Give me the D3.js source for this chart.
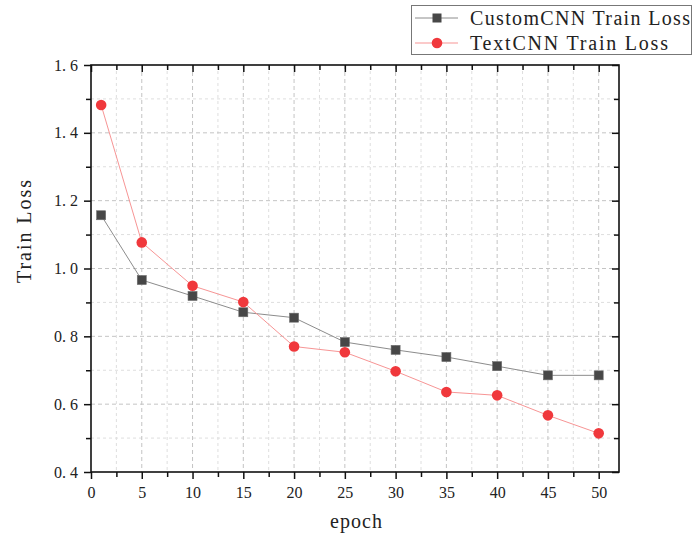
<!DOCTYPE html>
<html>
	<head>
		<title>Train Loss</title>
		<style>
			body, html {
				margin: 0;
				padding: 0;
				background: #fff;
			}
			text {
				font-family: "Liberation Serif", "DejaVu Serif", serif;
				fill: #222;
			}
			.grid-major line {
				stroke: #c4c4c4;
				stroke-width: 1px;
				stroke-dasharray: 4 3;
			}
			.grid-minor line {
				stroke: #dedede;
				stroke-width: 1px;
				stroke-dasharray: 3 3;
			}
		</style>
	</head>
	<body>

		<svg id="svg" width="693" height="535"></svg>

		<script src="https://d3js.org/d3.v7.min.js"></script>
		<script>
			// Data
			const epochs = [1, 5, 10, 15, 20, 25, 30, 35, 40, 45, 50]
			const customLoss = [1.157, 0.966, 0.919, 0.871, 0.855, 0.783, 0.760, 0.739, 0.712, 0.685, 0.685]
			const textLoss = [1.482, 1.077, 0.949, 0.901, 0.770, 0.753, 0.697, 0.636, 0.626, 0.567, 0.514]
			const xTicks = [0, 5, 10, 15, 20, 25, 30, 35, 40, 45, 50]
			const yTicks = [0.4, 0.6, 0.8, 1.0, 1.2, 1.4, 1.6]
			const seriesNames = ['CustomCNN Train Loss', 'TextCNN Train Loss']

			// plot box
			const pL = 91, pR = 619, pT = 65, pB = 472

			const x = d3.scaleLinear().domain([0, 52]).range([pL, pR])
			const y = d3.scaleLinear().domain([0.4, 1.6]).range([pB, pT])

			const svg = d3.select('#svg')

			// minor ticks sit half way between the major ones
			const xMinor = d3.range(2.5, 52, 5)
			const yMinor = d3.range(0.5, 1.6, 0.2)

			// grid lines
			svg.append('g').attr('class', 'grid-minor')
				.selectAll('line').data(xMinor).enter().append('line')
				.attr('x1', d => x(d)).attr('x2', d => x(d))
				.attr('y1', pT).attr('y2', pB)
			svg.append('g').attr('class', 'grid-minor')
				.selectAll('line').data(yMinor).enter().append('line')
				.attr('y1', d => y(d)).attr('y2', d => y(d))
				.attr('x1', pL).attr('x2', pR)
			svg.append('g').attr('class', 'grid-major')
				.selectAll('line').data(xTicks.slice(1)).enter().append('line')
				.attr('x1', d => x(d)).attr('x2', d => x(d))
				.attr('y1', pT).attr('y2', pB)
			svg.append('g').attr('class', 'grid-major')
				.selectAll('line').data(yTicks.slice(1, -1)).enter().append('line')
				.attr('y1', d => y(d)).attr('y2', d => y(d))
				.attr('x1', pL).attr('x2', pR)

			// axes: ticks point out on bottom/left, inward on top/right
			const fmt = d => d3.format('.1f')(d).replace('.', '. ')

			svg.append('g')
				.attr('transform', `translate(0,${pB})`)
				.call(d3.axisBottom(x).tickValues(xTicks).tickSize(7).tickPadding(8))
			svg.append('g')
				.attr('transform', `translate(0,${pB})`)
				.call(d3.axisBottom(x).tickValues(xMinor).tickSize(5).tickFormat(''))
			svg.append('g')
				.attr('transform', `translate(${pL},0)`)
				.call(d3.axisLeft(y).tickValues(yTicks).tickSize(7).tickPadding(6).tickFormat(fmt))
			svg.append('g')
				.attr('transform', `translate(${pL},0)`)
				.call(d3.axisLeft(y).tickValues(yMinor).tickSize(5).tickFormat(''))
			svg.append('g')
				.attr('transform', `translate(0,${pT})`)
				.call(d3.axisTop(x).tickValues(xTicks).tickSize(-7).tickFormat(''))
			svg.append('g')
				.attr('transform', `translate(0,${pT})`)
				.call(d3.axisTop(x).tickValues(xMinor).tickSize(-5).tickFormat(''))
			svg.append('g')
				.attr('transform', `translate(${pR},0)`)
				.call(d3.axisRight(y).tickValues(yTicks).tickSize(-7).tickFormat(''))
			svg.append('g')
				.attr('transform', `translate(${pR},0)`)
				.call(d3.axisRight(y).tickValues(yMinor).tickSize(-5).tickFormat(''))

			svg.selectAll('.domain').remove()
			svg.selectAll('.tick line').attr('stroke', '#111').attr('stroke-width', 1.5)
			svg.selectAll('.tick text')
				.style('font-size', '16px')
				.style('font-family', '"Liberation Serif", serif')
				.style('white-space', 'pre')
				.attr('fill', '#222')

			// frame
			svg.append('rect')
				.attr('x', pL).attr('y', pT)
				.attr('width', pR - pL).attr('height', pB - pT)
				.attr('fill', 'none').attr('stroke', '#111').attr('stroke-width', 1.6)

			// series
			const custom = epochs.map((e, i) => ({ e, v: customLoss[i] }))
			const textcnn = epochs.map((e, i) => ({ e, v: textLoss[i] }))
			const line = d3.line().x(d => x(d.e)).y(d => y(d.v))

			svg.append('path').datum(custom)
				.attr('d', line).attr('fill', 'none')
				.attr('stroke', '#8c8c8c').attr('stroke-width', 1)
			svg.append('path').datum(textcnn)
				.attr('d', line).attr('fill', 'none')
				.attr('stroke', '#f79595').attr('stroke-width', 1)

			svg.selectAll('.sq').data(custom).enter().append('rect')
				.attr('x', d => x(d.e) - 4.5).attr('y', d => y(d.v) - 4.5)
				.attr('width', 9).attr('height', 9)
				.attr('fill', '#474747').attr('stroke', '#6a6a6a').attr('stroke-width', 0.6)
			svg.selectAll('.dot').data(textcnn).enter().append('circle')
				.attr('cx', d => x(d.e)).attr('cy', d => y(d.v))
				.attr('r', 5.3)
				.attr('fill', '#f0383c')

			// axis titles
			svg.append('text')
				.attr('x', 330).attr('y', 528)
				.style('font-size', '20px')
				.attr('textLength', 52).attr('lengthAdjust', 'spacing')
				.text('epoch')
			svg.append('text')
				.attr('transform', `translate(31,283) rotate(-90)`)
				.style('font-size', '20px')
				.attr('textLength', 103).attr('lengthAdjust', 'spacing')
				.text('Train Loss')

			// legend
			const lg = svg.append('g')
			lg.append('rect')
				.attr('x', 411.5).attr('y', 5.5).attr('width', 280).attr('height', 49)
				.attr('fill', '#fff').attr('stroke', '#777').attr('stroke-width', 1)
			const rows = [18, 43]
			lg.append('line').attr('x1', 415).attr('x2', 458).attr('y1', rows[0]).attr('y2', rows[0])
				.attr('stroke', '#8c8c8c')
			lg.append('rect').attr('x', 432.5).attr('y', rows[0] - 4.5).attr('width', 9).attr('height', 9)
				.attr('fill', '#474747')
			lg.append('line').attr('x1', 415).attr('x2', 458).attr('y1', rows[1]).attr('y2', rows[1])
				.attr('stroke', '#f79595')
			lg.append('circle').attr('cx', 437).attr('cy', rows[1]).attr('r', 5.3)
				.attr('fill', '#f0383c')
			lg.selectAll('.lt').data(seriesNames).enter().append('text')
				.attr('x', 470).attr('y', (d, i) => rows[i] + 7)
				.style('font-size', '20px')
				.attr('textLength', d => d.length * 11)
				.attr('lengthAdjust', 'spacing')
				.text(d => d)
		</script>
	</body>
</html>
